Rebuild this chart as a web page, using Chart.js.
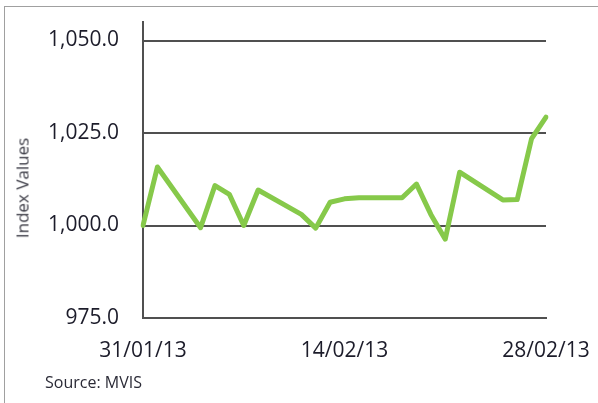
<!DOCTYPE html>
<html>
<head>
<meta charset="utf-8">
<script src="https://cdn.jsdelivr.net/npm/chart.js@4"></script>
<style>
  html, body { margin: 0; padding: 0; background: #fff; }
  #wrap { position: relative; width: 598px; height: 403px; overflow: hidden; }
  #frame { position: absolute; left: 4px; top: 6px; right: -10px; bottom: -10px;
           border-top: 1.5px solid #a0a0a0; border-left: 1.5px solid #a0a0a0; }
  canvas { position: absolute; left: 0; top: 0; }
  .txt { position: absolute; font-family: "Open Sans", sans-serif; color: #3a3a44; white-space: nowrap; }
  #ytitle { left: 22px; top: 188px; font-size: 17px; transform: translate(-50%, -50%) rotate(-90deg); }
  #source { left: 45px; top: 371px; font-size: 16px; color: #2a2a36; }
</style>
</head>
<body>
<div id="wrap">
  <div id="frame"></div>
  <canvas id="c" width="598" height="403"></canvas>
  <div class="txt" id="ytitle">Index Values</div>
  <div class="txt" id="source">Source: MVIS</div>
</div>
<script>
// Trading days 31/01/13 – 28/02/13 (weekends are null, spanned)
const dates = [
  '31/01/13','01/02/13','02/02/13','03/02/13','04/02/13','05/02/13','06/02/13','07/02/13',
  '08/02/13','09/02/13','10/02/13','11/02/13','12/02/13','13/02/13','14/02/13','15/02/13',
  '16/02/13','17/02/13','18/02/13','19/02/13','20/02/13','21/02/13','22/02/13','23/02/13',
  '24/02/13','25/02/13','26/02/13','27/02/13','28/02/13'
];
const indexValues = [
  1000.0, 1015.8, null, null, 999.4, 1010.8, 1008.4, 1000.0,
  1009.6, null, null, 1003.0, 999.3, 1006.3, 1007.2, 1007.5,
  null, null, 1007.5, 1011.2, 1003.0, 996.3, 1014.4, null,
  null, 1006.9, 1007.0, 1023.5, 1029.3
];
const xTickLabels = ['31/01/13', '14/02/13', '28/02/13'];
const yTicks = [975, 1000, 1025, 1050];

const tickFont = { family: '"Open Sans", sans-serif', size: 21 };
const textColor = '#1c1c2a';
const lineGrey = '#505050';

new Chart(document.getElementById('c'), {
  type: 'line',
  data: {
    labels: dates,
    datasets: [{
      data: indexValues,
      borderColor: '#86c94a',
      borderWidth: 5,
      pointRadius: 0,
      tension: 0,
      spanGaps: true,
      borderJoinStyle: 'round',
      borderCapStyle: 'round'
    }]
  },
  options: {
    responsive: false,
    devicePixelRatio: 1,
    animation: false,
    layout: { padding: { left: 0, top: 22, right: 52, bottom: 0 } },
    plugins: { legend: { display: false }, tooltip: { enabled: false } },
    scales: {
      x: {
        offset: false,
        grid: { display: false },
        border: { display: true, color: lineGrey, width: 2 },
        ticks: {
          autoSkip: false, maxRotation: 0, minRotation: 0,
          font: tickFont, color: textColor, padding: 12,
          callback: (v, i) => xTickLabels.includes(dates[i]) ? dates[i] : ''
        },
        afterFit: s => { s.height = 85; s.paddingLeft = 0; s.paddingRight = 0; }
      },
      y: {
        min: 975, max: 1055,
        afterBuildTicks: s => { s.ticks = yTicks.map(v => ({ value: v })); },
        grid: { color: lineGrey, lineWidth: 2, drawTicks: false },
        border: { display: true, color: lineGrey, width: 2 },
        ticks: {
          font: tickFont, color: textColor, padding: 24,
          callback: v => v.toLocaleString('en-US', { minimumFractionDigits: 1, maximumFractionDigits: 1 })
        },
        afterFit: s => { s.width = 143; s.paddingTop = 0; s.paddingBottom = 0; }
      }
    }
  }
});
</script>
</body>
</html>
